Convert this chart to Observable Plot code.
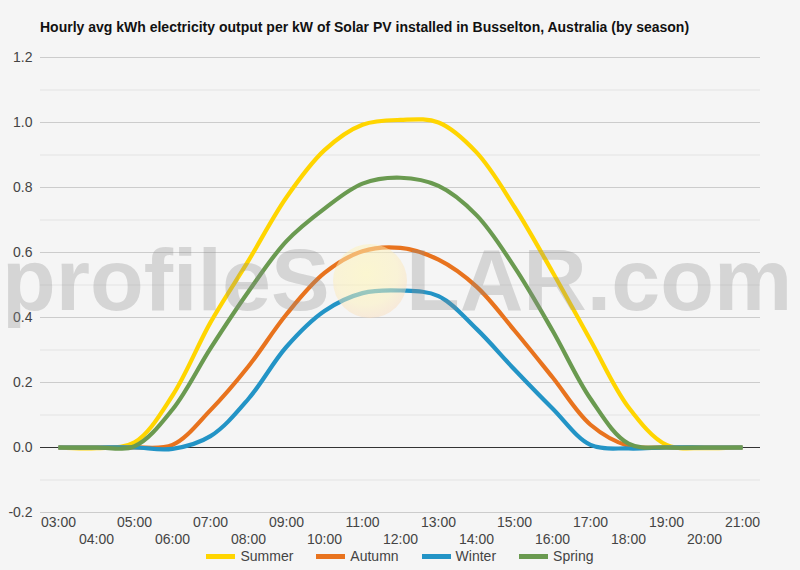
<!DOCTYPE html>
<html>
<head>
<meta charset="utf-8">
<script src="https://cdn.jsdelivr.net/npm/d3@7"></script>
<script src="https://cdn.jsdelivr.net/npm/@observablehq/plot@0.6"></script>
<style>
  html, body { margin: 0; padding: 0; background: #f5f5f5; }
  body { width: 800px; height: 570px; position: relative; overflow: hidden; font-family: Arial, "Liberation Sans", sans-serif; }
  #title { position: absolute; left: 40px; top: 19px; font-size: 14px; line-height: 17px; font-weight: bold; color: #111; white-space: nowrap; }
  #chart { position: absolute; left: 0; top: 38px; width: 800px; }
  #legend { position: absolute; left: 0; width: 800px; top: 548px; display: flex; justify-content: center; gap: 23px; font-size: 14px; line-height: 17px; color: #444; }
  .item { display: flex; align-items: center; gap: 5px; }
  .sw { width: 29px; height: 5px; display: inline-block; }
</style>
</head>
<body>
<div id="title">Hourly avg kWh electricity output per kW of Solar PV installed in Busselton, Australia (by season)</div>
<div id="chart"></div>
<div id="legend"></div>
<script>
const hours = ["03:00","04:00","05:00","06:00","07:00","08:00","09:00","10:00","11:00","12:00","13:00","14:00","15:00","16:00","17:00","18:00","19:00","20:00","21:00"];
const seasons = ["Summer","Autumn","Winter","Spring"];
const colors = ["#ffd500","#e8731e","#2394c6","#6a9a50"];
const summer = [0, -0.002, 0.016, 0.16, 0.385, 0.575, 0.77, 0.915, 0.993, 1.008, 1.0, 0.908, 0.74, 0.54, 0.33, 0.124, 0.008, -0.002, 0];
const autumn = [0, 0, 0, 0.008, 0.115, 0.25, 0.41, 0.537, 0.604, 0.614, 0.578, 0.495, 0.36, 0.216, 0.07, 0.005, 0, 0, 0];
const winter = [0, 0, 0, -0.004, 0.035, 0.15, 0.31, 0.42, 0.475, 0.483, 0.466, 0.365, 0.24, 0.12, 0.008, -0.003, 0, 0, 0];
const spring = [0, 0, 0.004, 0.117, 0.305, 0.48, 0.635, 0.735, 0.812, 0.83, 0.805, 0.715, 0.555, 0.36, 0.15, 0.012, 0, 0, 0];
const yTicks = [-0.2, 0, 0.2, 0.4, 0.6, 0.8, 1.0, 1.2];
const yMinor = [-0.1, 0.1, 0.3, 0.5, 0.7, 0.9, 1.1];

const series = [summer, autumn, winter, spring];
const rows = seasons.flatMap((s, k) => hours.map((h, i) => ({hour: h, value: series[k][i], season: s})));

const svg = Plot.plot({
  width: 800,
  height: 510,
  marginLeft: 40,
  marginRight: 40,
  marginTop: 19,
  marginBottom: 36,
  style: {background: "transparent", fontFamily: "Arial, 'Liberation Sans', sans-serif", fontSize: "14px", color: "#444"},
  x: {type: "point", domain: hours, range: [51, 749], padding: 0, axis: null},
  y: {domain: [-0.2, 1.2], axis: null},
  color: {domain: seasons, range: colors},
  marks: [
    Plot.ruleY(yMinor, {stroke: "#e3e3e3", strokeWidth: 1}),
    Plot.ruleY(yTicks.filter(d => d !== 0), {stroke: "#cccccc", strokeWidth: 1}),
    Plot.ruleY([0], {stroke: "#333", strokeWidth: 1}),
    Plot.axisY({ticks: yTicks, tickSize: 0, tickPadding: 8, tickFormat: d => d.toFixed(1), label: null, fill: "#444", fontSize: 14}),
    Plot.axisX({ticks: hours.filter((d, i) => i % 2 === 0), tickSize: 0, tickPadding: 5, label: null, fill: "#444", fontSize: 14}),
    Plot.axisX({ticks: hours.filter((d, i) => i % 2 === 1), tickSize: 0, tickPadding: 22, label: null, fill: "#444", fontSize: 14}),
    Plot.line(rows, {x: "hour", y: "value", z: "season", stroke: "season", strokeWidth: 4.2, curve: "catmull-rom", strokeLinecap: "butt"})
  ]
});

// watermark overlay (decoration, drawn on top with transparency)
const s = d3.select(svg);
const defs = s.append("defs");
const grad = defs.append("radialGradient").attr("id", "sun").attr("cx", "45%").attr("cy", "40%").attr("r", "60%");
grad.append("stop").attr("offset", "0%").attr("stop-color", "#fff7b8").attr("stop-opacity", 0.6);
grad.append("stop").attr("offset", "70%").attr("stop-color", "#fdf0b8").attr("stop-opacity", 0.5);
grad.append("stop").attr("offset", "100%").attr("stop-color", "#fadcb8").attr("stop-opacity", 0.45);
const wm = s.append("g").attr("pointer-events", "none").attr("text-anchor", "start");
wm.append("text").attr("x", 2).attr("y", 272).attr("text-anchor", "start")
  .attr("font-family", "Arial, 'Liberation Sans', sans-serif").attr("font-weight", "bold").attr("font-size", 88)
  .attr("fill", "#8a8a8a").attr("fill-opacity", 0.3).text("profileS");
wm.append("circle").attr("cx", 370).attr("cy", 243).attr("r", 37).attr("fill", "url(#sun)");
wm.append("text").attr("x", 406).attr("y", 272).attr("text-anchor", "start")
  .attr("font-family", "Arial, 'Liberation Sans', sans-serif").attr("font-weight", "bold").attr("font-size", 88)
  .attr("fill", "#8a8a8a").attr("fill-opacity", 0.3).text("LAR.com");

document.getElementById("chart").appendChild(svg);

const legend = document.getElementById("legend");
seasons.forEach((name, i) => {
  const item = document.createElement("div");
  item.className = "item";
  const sw = document.createElement("span");
  sw.className = "sw";
  sw.style.background = colors[i];
  const lab = document.createElement("span");
  lab.textContent = name;
  item.appendChild(sw);
  item.appendChild(lab);
  legend.appendChild(item);
});
</script>
</body>
</html>
